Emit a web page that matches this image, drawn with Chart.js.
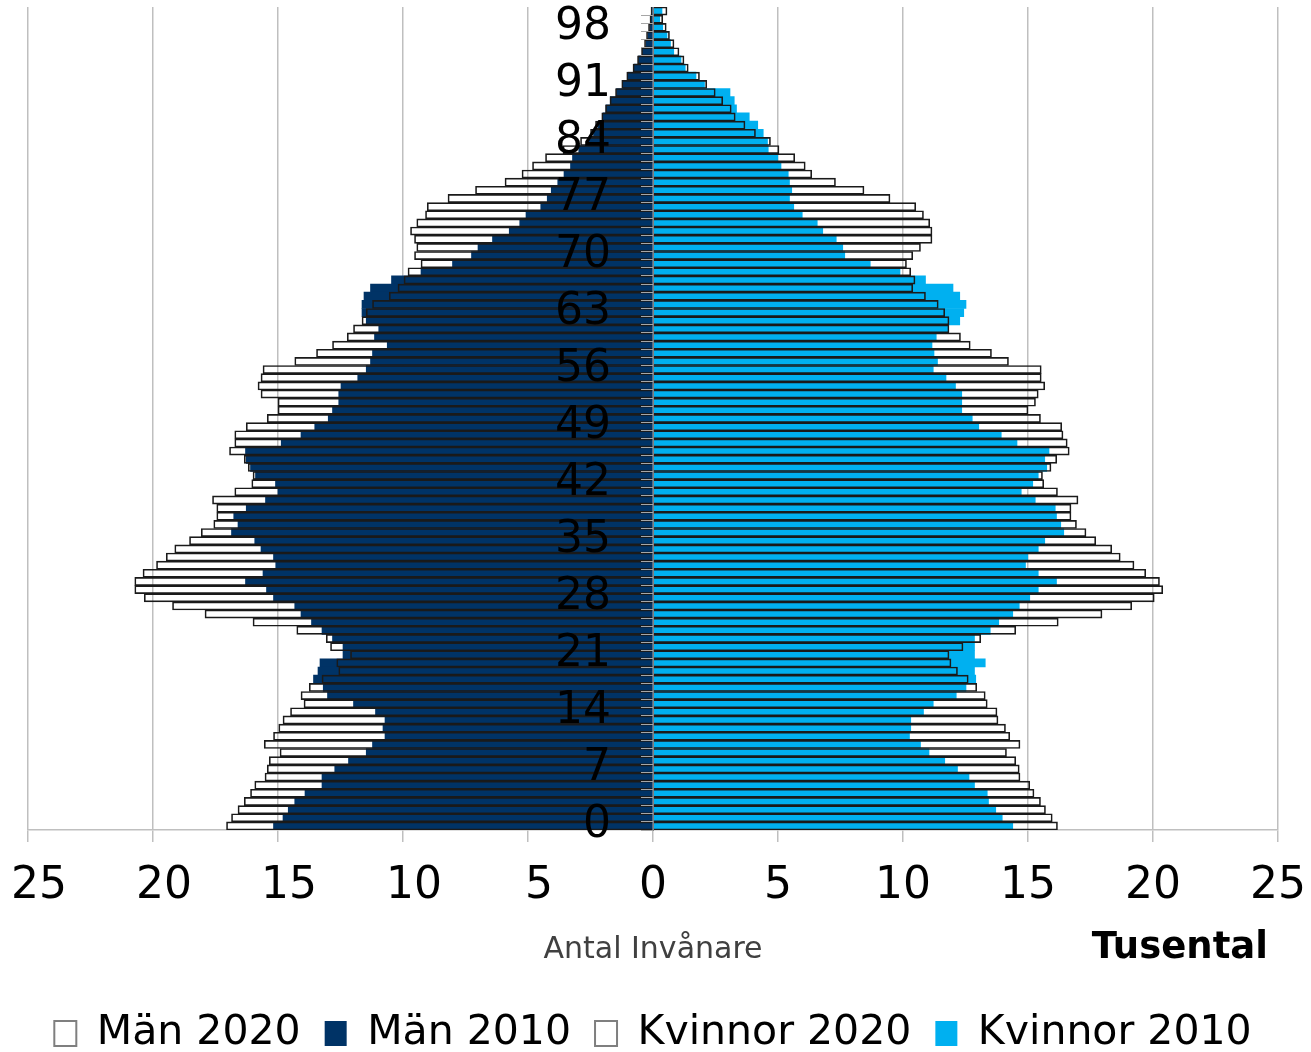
<!DOCTYPE html>
<html>
<head>
<meta charset="utf-8">
<script src="https://cdn.jsdelivr.net/npm/chart.js@4.4.1/dist/chart.umd.min.js"></script>
<style>
  html, body { margin: 0; padding: 0; background: #fff; }
</style>
</head>
<body>
<canvas id="grafico" width="1311" height="1052"></canvas>
<script>
// Ålder 0..100
const alder = ['0','1','2','3','4','5','6','7','8','9','10','11','12','13','14','15','16','17','18','19',
  '20','21','22','23','24','25','26','27','28','29','30','31','32','33','34','35','36','37','38','39',
  '40','41','42','43','44','45','46','47','48','49','50','51','52','53','54','55','56','57','58','59',
  '60','61','62','63','64','65','66','67','68','69','70','71','72','73','74','75','76','77','78','79',
  '80','81','82','83','84','85','86','87','88','89','90','91','92','93','94','95','96','97','98','99','100'];

// etiketter som visas på åldersaxeln
const alderEtiketter = ['0','7','14','21','28','35','42','49','56','63','70','77','84','91','98'];

// tusental invånare per ålder
const man2020 = [17.06,16.86,16.6,16.35,16.1,15.93,15.52,15.43,15.35,14.92,15.55,15.18,14.97,14.8,14.5,13.96,14.08,13.75,13.24,12.57,
  12.65,12.1,12.9,13.07,14.25,16.0,17.92,19.22,20.35,20.73,20.73,20.4,19.86,19.47,19.13,18.54,18.07,17.57,17.45,17.45,
  17.62,16.73,16.05,16.0,16.19,16.35,16.94,16.73,16.73,16.27,15.43,15.0,15.0,15.68,15.8,15.68,15.6,14.33,13.46,12.82,
  12.23,11.98,11.64,11.47,11.22,10.55,10.2,9.96,9.8,9.28,9.54,9.45,9.54,9.7,9.45,9.1,9.03,8.2,7.1,5.92,
  5.24,4.82,4.3,3.6,2.9,2.5,2.3,2.05,1.9,1.72,1.5,1.25,1.05,0.8,0.62,0.46,0.34,0.26,0.18,0.12,0.08];

const man2010 = [15.18,14.8,14.59,14.33,13.92,13.24,13.24,12.73,12.18,11.47,11.22,10.72,10.8,10.72,11.1,11.98,13.02,13.19,13.58,13.4,
  13.32,12.4,12.4,12.82,13.24,13.66,14.08,14.33,15.18,15.46,16.3,15.6,15.09,15.18,15.68,15.93,16.86,16.6,16.77,16.27,
  15.5,15.0,15.1,15.9,16.1,16.27,16.3,14.87,14.08,13.53,12.99,12.82,12.57,12.57,12.48,11.81,11.47,11.3,11.22,10.63,
  11.14,10.97,11.47,11.64,11.64,11.56,11.3,10.46,9.28,8.02,7.26,7.0,6.42,5.75,5.33,5.08,4.49,4.23,4.07,3.81,
  3.56,3.3,3.22,2.97,2.6,2.38,2.2,2.0,1.88,1.71,1.46,1.2,1.0,0.76,0.58,0.42,0.28,0.2,0.12,0.08,0.05];

const kvinnor2020 = [16.18,15.97,15.7,15.5,15.24,15.07,14.68,14.65,14.51,14.14,14.68,14.27,14.1,13.8,13.76,13.37,13.29,12.95,12.61,12.18,
  11.92,11.84,12.4,13.11,14.51,16.21,17.96,19.15,20.05,20.39,20.26,19.71,19.24,18.69,18.35,17.71,17.32,16.94,16.72,16.72,
  17.0,16.18,15.63,15.58,15.92,16.15,16.65,16.57,16.4,16.35,15.5,15.0,15.3,15.41,15.67,15.53,15.53,14.22,13.54,12.69,
  12.3,11.84,11.84,11.67,11.41,10.9,10.39,10.48,10.31,10.14,10.39,10.7,11.16,11.16,11.07,10.82,10.51,9.48,8.44,7.3,
  6.35,6.09,5.67,5.04,4.7,4.1,3.68,3.29,3.13,2.79,2.49,2.15,1.86,1.41,1.24,1.04,0.84,0.66,0.53,0.39,0.56];

const kvinnor2010 = [14.39,13.97,13.71,13.42,13.37,12.86,12.64,12.18,11.67,11.04,10.7,10.26,10.31,10.31,10.82,11.21,12.13,12.52,12.91,12.86,
  13.29,12.86,12.86,12.86,13.49,13.83,14.39,14.65,15.07,15.41,16.14,15.41,14.9,14.99,15.41,15.67,16.43,16.31,16.14,16.09,
  15.29,14.73,15.19,15.41,15.75,15.67,15.84,14.56,13.93,13.03,12.77,12.35,12.35,12.35,12.1,11.72,11.21,11.38,11.24,11.16,
  11.33,11.79,12.27,12.43,12.52,12.27,12.0,10.9,9.88,8.69,7.67,7.59,7.33,6.79,6.57,5.97,5.63,5.46,5.55,5.46,
  5.41,5.12,4.99,4.61,4.58,4.41,4.19,3.85,3.34,3.25,3.08,2.06,1.72,1.29,1.12,0.83,0.70,0.56,0.39,0.27,0.36];

const xTicks = [-25, -20, -15, -10, -5, 0, 5, 10, 15, 20, 25];

Chart.defaults.font.family = "'DejaVu Sans', Verdana, sans-serif";
Chart.defaults.color = '#000000';

// högsta åldern överst: vänd ordningen
const uppifran = (arr) => arr.slice().reverse();
const alderUpp = uppifran(alder);

// texten "Tusental" under axeln
const tusentalPlugin = {
  id: 'tusental',
  afterDraw(chart) {
    const ctx = chart.ctx;
    ctx.save();
    ctx.font = "bold 37px 'DejaVu Sans'";
    ctx.fillStyle = '#000000';
    ctx.textAlign = 'right';
    ctx.textBaseline = 'alphabetic';
    ctx.fillText('Tusental', 1268, 958);
    ctx.restore();
  }
};

const ctx = document.getElementById('grafico').getContext('2d');

const data = {
  labels: alderUpp,
  datasets: [
    {
      label: 'Män 2020',
      data: uppifran(man2020).map(v => -v),
      backgroundColor: 'rgba(255,255,255,0)',
      borderColor: '#1a1a1a',
      borderWidth: 1,
      grouped: false,
      barPercentage: 1,
      categoryPercentage: 1
    },
    {
      label: 'Män 2010',
      data: uppifran(man2010).map(v => -v),
      backgroundColor: '#003366',
      borderWidth: 0,
      grouped: false,
      barPercentage: 1,
      categoryPercentage: 1
    },
    {
      label: 'Kvinnor 2020',
      data: uppifran(kvinnor2020),
      backgroundColor: 'rgba(255,255,255,0)',
      borderColor: '#1a1a1a',
      borderWidth: 1,
      grouped: false,
      barPercentage: 1,
      categoryPercentage: 1
    },
    {
      label: 'Kvinnor 2010',
      data: uppifran(kvinnor2010),
      backgroundColor: '#00b0f0',
      borderWidth: 0,
      grouped: false,
      barPercentage: 1,
      categoryPercentage: 1
    }
  ]
};

const options = {
  indexAxis: 'y',
  responsive: false,
  animation: false,
  layout: {
    padding: { left: 28, right: 33, top: 7, bottom: -12 }
  },
  scales: {
    x: {
      min: -25,
      max: 25,
      afterBuildTicks: (axis) => { axis.ticks = xTicks.map(v => ({ value: v })); },
      ticks: {
        font: { size: 44, lineHeight: 2.818 },
        color: '#000000',
        padding: -17,
        maxRotation: 0,
        // negativa etiketter lite till höger, som i Excel
        callback: (v) => (v < 0 ? '\u2002' : '') + String(Math.abs(v))
      },
      grid: {
        color: '#bfbfbf',
        lineWidth: 1.5,
        tickLength: 12
      },
      border: { color: '#bfbfbf', width: 1.5 },
      title: {
        display: true,
        text: 'Antal Invånare',
        font: { size: 30 },
        color: '#404040',
        padding: { top: 0, bottom: 21 }
      }
    },
    y: {
      position: { x: 0 },
      offset: true,
      ticks: {
        autoSkip: false,
        font: { size: 44, lineHeight: 0.3 },
        color: '#000000',
        padding: 0,
        z: 1,
        callback: function (value, index) {
          if (index === 0) return null;
          const lab = alderUpp[index];
          // tre mellanslag ger avståndet till mittaxeln
          return alderEtiketter.includes(lab) ? lab + '   ' : '';
        }
      },
      grid: {
        drawOnChartArea: false,
        color: '#a6a6a6',
        tickLength: 12,
        z: 1
      },
      border: { color: '#808080', width: 1, z: 1 }
    }
  },
  plugins: {
    tooltip: { enabled: false },
    legend: {
      position: 'bottom',
      labels: {
        font: { size: 41 },
        color: '#000000',
        boxWidth: 22,
        boxHeight: 25,
        padding: 24,
        generateLabels: (chart) => {
          const items = Chart.defaults.plugins.legend.labels.generateLabels(chart);
          items.forEach(it => {
            if (it.text.endsWith('2020')) {
              it.fillStyle = '#ffffff';
              it.strokeStyle = '#7f7f7f';
              it.lineWidth = 2;
            }
          });
          return items;
        }
      }
    }
  }
};

const pyramid = new Chart(ctx, {
  type: 'bar',
  data: data,
  options: options,
  plugins: [tusentalPlugin]
});
</script>
</body>
</html>
